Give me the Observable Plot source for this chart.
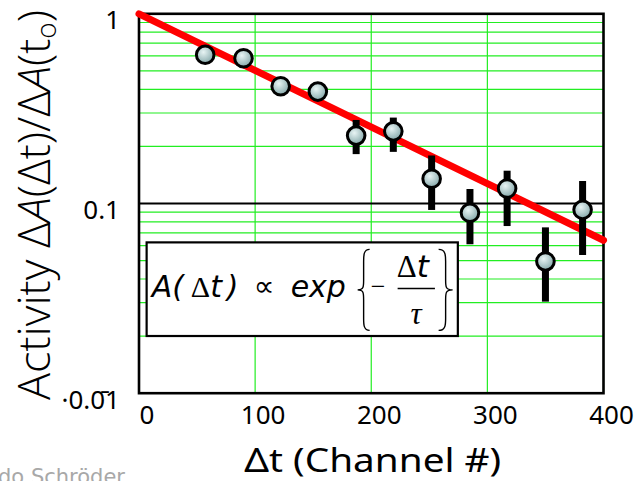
<!DOCTYPE html>
<html><head><meta charset="utf-8">
<script src="https://cdn.jsdelivr.net/npm/d3@7"></script>
<script src="https://cdn.jsdelivr.net/npm/@observablehq/plot@0.6"></script>
<style>html,body{margin:0;padding:0;background:#fff;overflow:hidden}</style>
</head><body><div id="chart"></div>
<script>
// ---- data ----
const channel  = [57, 90, 122, 154, 187, 219, 252, 285, 317, 350, 382];
const activity = [0.608, 0.583, 0.415, 0.389, 0.228, 0.240, 0.135, 0.0893, 0.120, 0.0495, 0.0926];
const errLow   = [0.57, 0.55, 0.39, 0.365, 0.181, 0.186, 0.0919, 0.0606, 0.0756, 0.0302, 0.0532];
const errHigh  = [0.65, 0.62, 0.44, 0.415, 0.274, 0.282, 0.178, 0.1185, 0.148, 0.0744, 0.1306];
const fitChannel  = [0, 400];
const fitActivity = [1, 0.064];
const xTicks = [0, 100, 200, 300, 400];
const yTicks = [1, 0.1, 0.01];
const yTickLabels = ["1", "0.1", "\u00b70.0\u03041"];
const minorGrid = [0.02, 0.03, 0.04, 0.05, 0.06, 0.07, 0.08, 0.09, 0.2, 0.3, 0.4, 0.5, 0.6, 0.7, 0.8, 0.9];
const xGrid = [100, 200, 300, 400];
const formulaBoxX = [7, 275];
const formulaBoxY = [0.062, 0.0199];
const xTitle = "\u0394t (Channel #)";
const credit = "Guido Schr\u00f6der";

const points = channel.map((c, i) => ({x: c, y: activity[i], lo: errLow[i], hi: errHigh[i]}));
const fit = fitChannel.map((c, i) => ({x: c, y: fitActivity[i]}));
const box = [{x1: formulaBoxX[0], x2: formulaBoxX[1], y1: formulaBoxY[0], y2: formulaBoxY[1]}];
const green = "#22ee22";

const plot = Plot.plot({
  width: 642, height: 481,
  marginLeft: 138.5, marginRight: 39, marginTop: 13.3, marginBottom: 88.3,
  style: {fontFamily: "'Noto Sans', sans-serif", background: "white"},
  x: {domain: [0, 400]},
  y: {type: "log", domain: [0.01, 1]},
  marks: [
    Plot.ruleY(minorGrid, {stroke: green, strokeWidth: 1.2}),
    Plot.ruleX(xGrid, {stroke: green, strokeWidth: 1.2}),
    Plot.ruleY([0.1], {stroke: "black", strokeWidth: 2}),
    Plot.rect(box, {x1: "x1", x2: "x2", y1: "y1", y2: "y2", fill: "white", stroke: "black", strokeWidth: 2.2}),
    Plot.frame({stroke: "black", strokeWidth: 2.6}),
    Plot.line(fit, {x: "x", y: "y", stroke: "#ff0000", strokeWidth: 7}),
    Plot.ruleX(points, {x: "x", y1: "lo", y2: "hi", stroke: "black", strokeWidth: 7}),
    Plot.dot(points, {x: "x", y: "y", r: 8.8, fill: "url(#ball)", stroke: "black", strokeWidth: 3}),
    Plot.axisX(xTicks, {tickSize: 0, tickPadding: 12, dx: 8, fontSize: 26, label: null}),
    Plot.axisY(yTicks, {tickSize: 0, tickPadding: 19, dy: 7, fontSize: 26, label: null,
      tickFormat: d => yTickLabels[yTicks.indexOf(d)]})
  ]
});
document.getElementById("chart").appendChild(plot);

const svg = d3.select(plot);
const defs = svg.insert("defs", ":first-child");
const grad = defs.append("radialGradient").attr("id", "ball").attr("cx", "40%").attr("cy", "35%").attr("r", "65%");
grad.append("stop").attr("offset", "0%").attr("stop-color", "#e8f4f4");
grad.append("stop").attr("offset", "100%").attr("stop-color", "#86a9ab");

const sx = plot.scale("x"), sy = plot.scale("y");

// Y title
const yt = svg.append("text")
  .attr("transform", `translate(50,${(sy.apply(1) + sy.apply(0.01)) / 2 + 2}) rotate(-90)`)
  .attr("text-anchor", "middle")
  .attr("font-family", "'Open Sans', 'Noto Sans', sans-serif")
  .attr("font-weight", 300)
  .attr("font-size", 45)
  .attr("textLength", 390).attr("lengthAdjust", "spacingAndGlyphs");
yt.append("tspan").text("Activity \u0394");
yt.append("tspan").attr("font-style", "italic").text("A");
yt.append("tspan").text("(\u0394t)/\u0394");
yt.append("tspan").attr("font-style", "italic").text("A");
yt.append("tspan").text("(t");
yt.append("tspan").attr("font-size", 28).attr("dy", 6).text("o");
yt.append("tspan").attr("dy", -6).text(")");

// X title
svg.append("text")
  .attr("x", (sx.apply(0) + sx.apply(400)) / 2 + 2).attr("y", 472)
  .attr("text-anchor", "middle")
  .attr("font-family", "'Noto Sans', sans-serif")
  .attr("font-size", 32)
  .attr("textLength", 257).attr("lengthAdjust", "spacingAndGlyphs")
  .text(xTitle);

// credit (cut off at the page edge)
svg.append("text")
  .attr("x", 125).attr("y", 484)
  .attr("text-anchor", "end")
  .attr("font-family", "'DejaVu Sans', sans-serif")
  .attr("font-size", 21).attr("fill", "#a8a8a8")
  .text(credit);

// formula inside the box
const bx = sx.apply(formulaBoxX[0]), by = sy.apply(formulaBoxY[0]);
const f = svg.append("g");
const sans = "'DejaVu Sans', sans-serif", serif = "'Liberation Serif', serif";
function t(x, y, s, fam, size, italic, anchor) {
  f.append("text").attr("x", bx + x).attr("y", by + y).attr("font-family", fam)
    .attr("font-size", size).attr("font-style", italic ? "italic" : "normal")
    .attr("text-anchor", anchor || "start").text(s);
}
t(5, 54.6, "A(", sans, 30, true);
t(44, 54.6, "\u0394", serif, 30, false);
t(63.5, 54.6, "t", sans, 30, true);
t(80, 54.6, ")", sans, 30, true);
t(107, 54, "\u221d", sans, 29, false);
t(144, 54.6, "exp", sans, 30, true);
t(224, 53, "\u2212", serif, 26, false);
t(270, 34.5, "\u0394", serif, 31, false, "end");
t(270, 34.5, "t", sans, 31, true);
t(269.5, 82, "\u03c4", serif, 31, true, "middle");
f.append("line").attr("x1", bx + 251).attr("x2", bx + 288.3)
  .attr("y1", by + 46).attr("y2", by + 46).attr("stroke", "black").attr("stroke-width", 1.5);
function brace(xEnd, xTip, yTop, yBot) {
  const ym = (yTop + yBot) / 2, xm = (xEnd + xTip) / 2;
  return `M${xEnd},${yTop} C${xm},${yTop} ${xm},${yTop + 6} ${xm},${yTop + 12} L${xm},${ym - 10} C${xm},${ym - 3} ${xm},${ym} ${xTip},${ym}` +
         ` C${xm},${ym} ${xm},${ym + 3} ${xm},${ym + 10} L${xm},${yBot - 12} C${xm},${yBot - 6} ${xm},${yBot} ${xEnd},${yBot}`;
}
f.append("path").attr("d", brace(bx + 223, bx + 211, by + 7, by + 88)).attr("fill", "none").attr("stroke", "black").attr("stroke-width", 1.4);
f.append("path").attr("d", brace(bx + 292, bx + 306, by + 7, by + 88)).attr("fill", "none").attr("stroke", "black").attr("stroke-width", 1.4);
</script>
</body></html>
